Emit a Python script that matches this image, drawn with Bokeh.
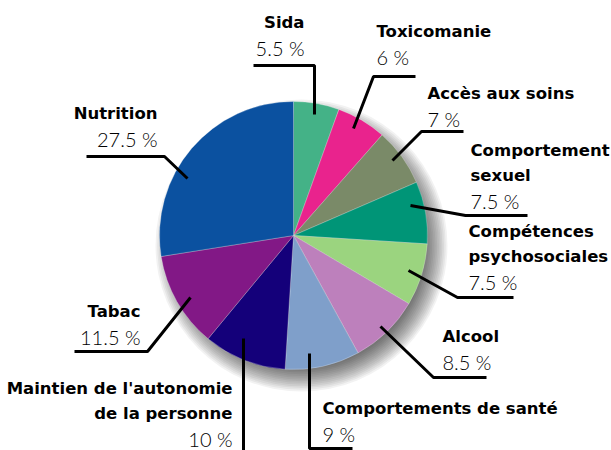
import numpy as np
from bokeh.plotting import figure
from bokeh.models import Range1d, ColumnDataSource
from bokeh.core.properties import value
from bokeh.embed import file_html
from bokeh.resources import INLINE

# ---------------- data ----------------
categories = ["Sida", "Toxicomanie", "Accès aux soins", "Comportement\nsexuel",
              "Compétences\npsychosociales", "Alcool", "Comportements de santé",
              "Maintien de l'autonomie\nde la personne", "Tabac", "Nutrition"]
shares = [5.5, 6, 7, 7.5, 7.5, 8.5, 9, 10, 11.5, 27.5]
value_labels = ["5.5 %", "6 %", "7 %", "7.5 %", "7.5 %", "8.5 %", "9 %", "10 %", "11.5 %", "27.5 %"]
colors = ["#44b287", "#e9238d", "#7a8a68", "#009577", "#9bd47f",
          "#bd80bc", "#7f9fca", "#14007a", "#821886", "#0b51a0"]

# ---------------- layout (reference pixel coords, y downwards) ----------------
W, H = 611, 450
CX, CY, R = 293, 235, 134
label_x = [304, 376, 427, 470, 468, 442, 322, 232, 140, 157]
label_y = [29, 38, 100, 157, 238, 343, 415, 395, 318, 120]
label_align = ["right", "left", "left", "left", "left", "left", "left", "right", "right", "right"]
line_step = 25
baseline_fix = 7
leaders = [
    [(253, 65), (314, 65), (314, 114)],
    [(415, 76), (373, 76), (353, 128)],
    [(463, 131), (421, 131), (392, 160)],
    [(527, 215), (465, 215), (410, 205)],
    [(513, 297), (457, 297), (408, 270)],
    [(486, 377), (433, 377), (380, 326)],
    [(352, 448), (309, 448), (309, 353)],
    [(243, 338), (243, 470)],
    [(74, 351), (147, 351), (190, 297)],
    [(86, 156), (164, 156), (187, 178)],
]

def fy(py):
    return H - py

p = figure(width=W, height=H, x_range=Range1d(0, W), y_range=Range1d(0, H),
           toolbar_location=None, output_backend="svg", min_border=0,
           x_axis_location=None, y_axis_location=None)
p.grid.visible = False
p.outline_line_color = None
p.background_fill_color = "white"
p.border_fill_color = "white"

# soft drop shadow
n_sh = 14
sh_r = [R + 12 - i * 24 / n_sh for i in range(n_sh)]
p.circle(x=[CX + 8] * n_sh, y=[fy(CY + 10)] * n_sh, radius=sh_r,
         fill_color="black", fill_alpha=0.05, line_color=None)

# pie wedges (clockwise from the top)
frac = np.array(shares) / sum(shares)
cum = np.concatenate([[0], np.cumsum(frac)])
start = np.pi / 2 - cum[1:] * 2 * np.pi
end = np.pi / 2 - cum[:-1] * 2 * np.pi
src = ColumnDataSource(dict(start=start, end=end, color=colors, cat=categories))
p.wedge(x=CX, y=fy(CY), radius=R, start_angle="start", end_angle="end",
        direction="anticlock", fill_color="color", line_color="white",
        line_width=0.5, line_alpha=0.5, source=src)

# leader lines
p.multi_line(xs=[[pt[0] for pt in L] for L in leaders],
             ys=[[fy(pt[1]) for pt in L] for L in leaders],
             line_color="black", line_width=3)

# labels
nx, ny, nt, na = [], [], [], []
vx, vy, vt, va = [], [], [], []
for cat, val, x, y, al in zip(categories, value_labels, label_x, label_y, label_align):
    lines = cat.split("\n")
    for i, ln in enumerate(lines):
        nx.append(x); ny.append(fy(y + i * line_step - baseline_fix)); nt.append(ln); na.append(al)
    vx.append(x); vy.append(fy(y + len(lines) * line_step - baseline_fix)); vt.append(val); va.append(al)

p.text(x=nx, y=ny, text=nt, text_align=na, text_baseline="alphabetic",
       text_font=value("DejaVu Sans"), text_font_style="bold",
       text_font_size="16.5px", text_color="black")
p.text(x=vx, y=vy, text=vt, text_align=va, text_baseline="alphabetic",
       text_font=value("Lato Light"), text_font_size="20px", text_color="black")

open("out.html", "w").write(file_html(p, INLINE))
